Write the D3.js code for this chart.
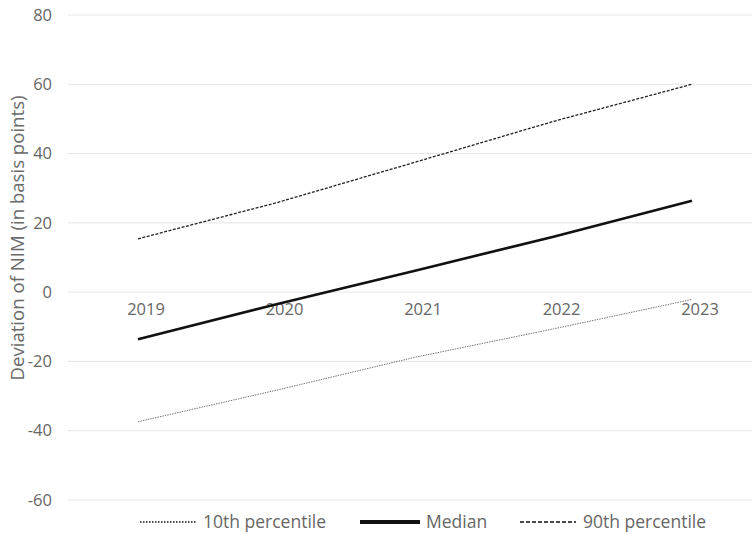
<!DOCTYPE html>
<html>
<head>
<meta charset="utf-8">
<style>
  body { margin: 0; background: #fff; }
  svg { display: block; font-family: "Open Sans", "Liberation Sans", sans-serif; }
</style>
</head>
<body>
<svg width="752" height="535"></svg>
<script src="https://cdn.jsdelivr.net/npm/d3@7/dist/d3.min.js"></script>
<script>

var years = ["2019", "2020", "2021", "2022", "2023"];
var p10 = [-37.4, -28.3, -18.8, -10.6, -2.1];
var median = [-13.6, -3.5, 6.2, 16.0, 26.4];
var p90 = [15.4, 25.8, 37.5, 49.3, 60.0];
var yTicks = [-60, -40, -20, 0, 20, 40, 60, 80];

var svg = d3.select("svg");

var x = d3.scalePoint().domain(years).range([138, 692]);
var y = d3.scaleLinear().domain([-60, 80]).range([500, 15]);

// horizontal gridlines
svg.append("g")
    .selectAll("line")
    .data(yTicks)
    .enter().append("line")
    .attr("x1", 68).attr("x2", 752)
    .attr("y1", function(d) { return y(d); })
    .attr("y2", function(d) { return y(d); })
    .attr("stroke", "#e6e6e6")
    .attr("stroke-width", 1);

// y tick labels
svg.append("g")
    .selectAll("text")
    .data(yTicks)
    .enter().append("text")
    .attr("x", 52)
    .attr("y", function(d) { return y(d); })
    .attr("dy", "0.35em")
    .attr("text-anchor", "end")
    .attr("fill", "#666")
    .style("font-size", "16.5px")
    .text(function(d) { return d; });

// year labels sit just under the zero line
svg.append("g")
    .selectAll("text")
    .data(years)
    .enter().append("text")
    .attr("x", function(d) { return x(d) + 8; })
    .attr("y", y(0) + 23)
    .attr("text-anchor", "middle")
    .attr("fill", "#666")
    .style("font-size", "16.5px")
    .text(function(d) { return d; });

// y axis title
svg.append("text")
    .attr("transform", "translate(24,238) rotate(-90)")
    .attr("text-anchor", "middle")
    .attr("fill", "#6a6a6a")
    .style("font-size", "18.6px")
    .text("Deviation of NIM (in basis points)");

var series = [
  { name: "10th percentile", values: p10, color: "#777", width: 1, dash: "1.5,1" },
  { name: "Median", values: median, color: "#111", width: 2.6, dash: null },
  { name: "90th percentile", values: p90, color: "#222", width: 1.3, dash: "3,1.5" }
];

var line = d3.line()
    .x(function(d, i) { return x(years[i]); })
    .y(function(d) { return y(d); });

svg.append("g")
    .selectAll("path")
    .data(series)
    .enter().append("path")
    .attr("d", function(d) { return line(d.values); })
    .attr("fill", "none")
    .attr("stroke", function(d) { return d.color; })
    .attr("stroke-width", function(d) { return d.width; })
    .attr("stroke-dasharray", function(d) { return d.dash; });

// legend
var legendX = [140, 360, 520];
var legend = svg.append("g")
    .selectAll("g")
    .data(series)
    .enter().append("g")
    .attr("transform", function(d, i) { return "translate(" + legendX[i] + ",522)"; });

legend.append("line")
    .attr("x1", 0)
    .attr("x2", function(d, i) { return i == 1 ? 60 : 56; })
    .attr("stroke", "#111")
    .attr("stroke-width", function(d, i) { return i == 1 ? 4 : 1.4; })
    .attr("stroke-dasharray", function(d, i) { return i == 0 ? "1.5,1.5" : i == 2 ? "4,2" : null; });

legend.append("text")
    .attr("x", function(d, i) { return i == 1 ? 66 : 63; })
    .attr("dy", "0.35em")
    .attr("fill", "#666")
    .style("font-size", "17.5px")
    .text(function(d) { return d.name; });

</script>
</body>
</html>
